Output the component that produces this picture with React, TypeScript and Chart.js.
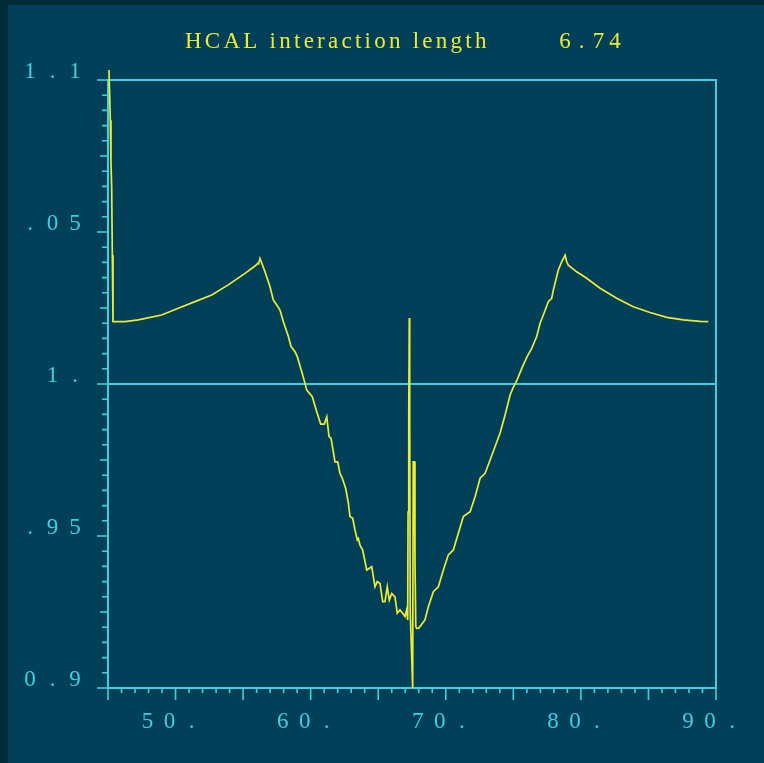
import React, { useEffect, useRef } from "react";
import { Chart, registerables } from "chart.js";

Chart.register(...registerables);

// ---- data ----
const xs = [
  45.07, 45.12, 45.17, 45.22, 45.27, 45.32, 45.37, 46.26, 47.24, 48.97,
  50.2, 51.44, 52.68, 53.9, 55.14, 55.88, 56.08, 56.14, 56.25, 56.62,
  56.99, 57.24, 57.49, 57.73, 57.98, 58.35, 58.55, 58.84, 59.01, 59.34,
  59.58, 59.71, 60.12, 60.45, 60.74, 61.01, 61.19, 61.36, 61.51, 61.8,
  62.0, 62.17, 62.34, 62.59, 62.79, 62.91, 63.11, 63.28, 63.45, 63.53,
  63.65, 63.85, 64.15, 64.52, 64.76, 64.93, 65.13, 65.33, 65.5, 65.67,
  65.82, 66.0, 66.24, 66.41, 66.61, 66.81, 66.98, 67.1, 67.18, 67.21,
  67.26, 67.3, 67.33, 67.37, 67.55, 67.59, 67.67, 67.72, 67.78, 67.85,
  67.97, 68.09, 68.46, 68.71, 69.08, 69.45, 69.82, 70.19, 70.56, 70.93,
  71.3, 71.8, 72.17, 72.54, 72.91, 73.28, 74.02, 74.39, 74.76, 74.98,
  75.27, 75.64, 76.01, 76.36, 76.73, 76.98, 77.22, 77.59, 77.84, 77.96,
  78.33, 78.58, 78.83, 78.95, 79.07, 79.69, 80.43, 81.42, 82.65, 83.88,
  85.12, 86.36, 87.58, 88.82, 89.43,
];
const ys = [
  1.1033, 1.0956, 1.0868, 1.0726, 1.0649, 1.0424, 1.0205, 1.0205, 1.0211, 1.0227,
  1.0249, 1.0271, 1.0293, 1.0326, 1.0364, 1.0388, 1.0397, 1.0395, 1.0413, 1.0369,
  1.032, 1.0276, 1.026, 1.0243, 1.0205, 1.0156, 1.0123, 1.0106, 1.009, 1.004,
  1.0002, 0.998, 0.9958, 0.9909, 0.9868, 0.9868, 0.9892, 0.9827, 0.9821, 0.9744,
  0.9744, 0.9706, 0.969, 0.9657, 0.9608, 0.9564, 0.9558, 0.952, 0.9487, 0.9492,
  0.947, 0.9454, 0.9388, 0.9399, 0.9333, 0.935, 0.9344, 0.9284, 0.9284, 0.9333,
  0.9289, 0.9311, 0.93, 0.9246, 0.9257, 0.9246, 0.9235, 0.9257, 0.9224, 0.9579,
  0.9888, 1.0217, 0.9888, 0.925, 0.9, 0.9744, 0.9744, 0.9421, 0.9202, 0.9196,
  0.9196, 0.9202, 0.9224, 0.9267, 0.9317, 0.9333, 0.9388, 0.9438, 0.9454, 0.9509,
  0.9564, 0.958, 0.9629, 0.969, 0.9706, 0.975, 0.9839, 0.9898, 0.9964, 0.9987,
  1.0013, 1.0053, 1.0089, 1.0117, 1.0156, 1.02, 1.0227, 1.0271, 1.0282, 1.0309,
  1.0375, 1.0402, 1.0424, 1.0402, 1.0391, 1.0369, 1.0348, 1.0315, 1.0282, 1.0254,
  1.0235, 1.0219, 1.0211, 1.0206, 1.0205,
];

const yLabelValues = [1.1, 1.05, 1.0, 0.95, 0.9];
const yLabelTexts = ["1.1", ".05", "1.", ".95", "0.9"];
const xLabelValues = [50, 60, 70, 80, 90];
const xLabelTexts = ["50.", "60.", "70.", "80.", "90."];
const titleText = "HCAL interaction length";
const titleValue = "6.74";
const refLineValue = 1.0;

const X_MIN = 45;
const X_MAX = 90;
const Y_MIN = 0.9;
const Y_MAX = 1.1;

// ---- styles ----
const BG = "#02405a";
const BORDER = "#012b38";
const CYAN = "#42d0e0";
const YELLOW = "#ecec34";
const FONT = "23px 'Liberation Serif', 'DejaVu Serif', serif";

const framePlugin = {
  id: "frameAxes",
  beforeDraw(chart: any) {
    const ctx = chart.ctx;
    ctx.save();
    ctx.fillStyle = BORDER;
    ctx.fillRect(0, 0, chart.width, chart.height);
    ctx.fillStyle = BG;
    ctx.fillRect(8, 5, chart.width - 8, chart.height - 5);
    ctx.restore();
  },
  beforeDatasetsDraw(chart: any) {
    const ctx = chart.ctx;
    const x = chart.scales.x;
    const y = chart.scales.y;
    const L = x.getPixelForValue(X_MIN);
    const R = x.getPixelForValue(X_MAX);
    const T = y.getPixelForValue(Y_MAX);
    const B = y.getPixelForValue(Y_MIN);
    ctx.save();
    ctx.strokeStyle = CYAN;
    ctx.lineWidth = 2;
    ctx.beginPath();
    ctx.moveTo(L, T);
    ctx.lineTo(R, T);
    ctx.lineTo(R, B);
    ctx.lineTo(L, B);
    ctx.closePath();
    const yr = y.getPixelForValue(refLineValue);
    ctx.moveTo(L, yr);
    ctx.lineTo(R, yr);
    ctx.stroke();

    ctx.lineWidth = 1.6;
    ctx.beginPath();
    const nY = Math.round((Y_MAX - Y_MIN) / 0.005);
    for (let i = 0; i <= nY; i++) {
      const py = y.getPixelForValue(Y_MIN + i * 0.005);
      const len = i % 10 === 0 ? 11 : i % 5 === 0 ? 8 : 6;
      ctx.moveTo(L - len, py);
      ctx.lineTo(L, py);
    }
    const nX = X_MAX - X_MIN;
    for (let i = 0; i <= nX; i++) {
      const px = x.getPixelForValue(X_MIN + i);
      const len = i % 5 === 0 ? 12 : 5;
      ctx.moveTo(px, B);
      ctx.lineTo(px, B + len);
    }
    ctx.stroke();

    // labels
    ctx.fillStyle = CYAN;
    ctx.font = FONT;
    ctx.textAlign = "center";
    ctx.textBaseline = "alphabetic";
    yLabelValues.forEach((v, k) => {
      const t = yLabelTexts[k];
      const py = y.getPixelForValue(v) - 2;
      const n = t.length;
      for (let i = 0; i < n; i++) {
        ctx.fillText(t[i], L - 33 - (n - 1 - i) * 22.5, py);
      }
    });
    xLabelValues.forEach((v, k) => {
      const t = xLabelTexts[k];
      const px = x.getPixelForValue(v);
      for (let i = 0; i < t.length; i++) {
        ctx.fillText(t[i], px - 28 + i * 22, B + 40);
      }
    });

    // title
    ctx.fillStyle = YELLOW;
    ctx.textAlign = "left";
    let cx = 185;
    const spacing = 3.25;
    for (const ch of titleText) {
      ctx.fillText(ch, cx, 48);
      cx += ctx.measureText(ch).width + spacing;
    }
    ctx.textAlign = "center";
    for (let i = 0; i < titleValue.length; i++) {
      ctx.fillText(titleValue[i], 565 + i * 16.7, 48);
    }
    ctx.restore();
  },
};

export default function App() {
  const canvasRef = useRef<HTMLCanvasElement | null>(null);

  useEffect(() => {
    const canvas = canvasRef.current;
    if (!canvas) return;
    const points = xs.map((xv, i) => ({ x: xv, y: ys[i] }));
    const chart = new Chart(canvas, {
      type: "line",
      data: {
        datasets: [
          {
            data: points,
            borderColor: YELLOW,
            borderWidth: 1.7,
            pointRadius: 0,
            tension: 0,
            fill: false,
            clip: false as any,
          },
        ],
      },
      options: {
        responsive: false,
        animation: false,
        layout: { padding: { left: 108, top: 80, right: 48, bottom: 75 } },
        plugins: {
          legend: { display: false },
          tooltip: { enabled: false },
          title: { display: false },
        },
        events: [],
        scales: {
          x: { type: "linear", min: X_MIN, max: X_MAX, display: false },
          y: { type: "linear", min: Y_MIN, max: Y_MAX, display: false },
        },
      },
      plugins: [framePlugin],
    });
    return () => chart.destroy();
  }, []);

  return (
    <div style={{ position: "fixed", left: 0, top: 0, width: 764, height: 763 }}>
      <canvas ref={canvasRef} width={764} height={763} style={{ display: "block" }} />
    </div>
  );
}
